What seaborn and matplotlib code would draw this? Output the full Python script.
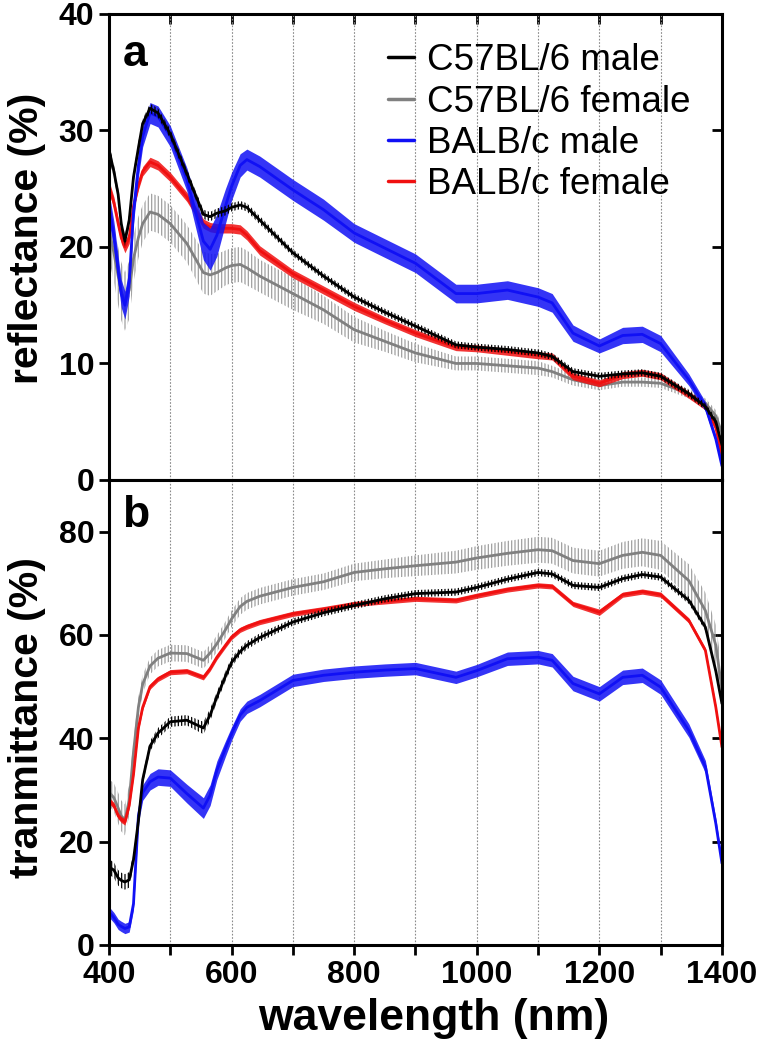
import matplotlib
matplotlib.use('Agg')
import numpy as np
import pandas as pd
import matplotlib.pyplot as plt
import seaborn as sns

# wavelength grid (nm)
wl = [400, 408, 415, 420, 426, 433, 440, 448, 455, 467, 480, 500, 527, 554, 565, 576, 590, 600, 614, 625, 646,
      700, 750, 800, 850, 900, 966, 1000, 1050, 1100, 1123, 1157, 1200, 1238, 1270, 1300, 1346,
      1373, 1390, 1400]

groups = ['C57BL/6 male', 'C57BL/6 female', 'BALB/c male', 'BALB/c female']

# (a) reflectance (%)
black_r = [28.3, 26.5, 24.5, 22.0, 20.5, 22.3, 26.0, 28.5, 30.6, 31.9, 31.5, 29.7, 26.3, 22.8, 22.6, 22.9, 23.1, 23.4, 23.6, 23.4, 22.3,
           19.5, 17.5, 15.7, 14.4, 13.2, 11.6, 11.4, 11.2, 10.9, 10.6, 9.3, 8.9, 9.1, 9.2, 8.9, 7.4, 6.3, 5.0, 3.0]
gray_r = [21.5, 19.5, 17.5, 16.2, 15.3, 16.3, 19.0, 20.8, 22.0, 23.0, 22.8, 22.0, 20.3, 17.8, 17.6, 17.8, 18.2, 18.4, 18.5, 18.2, 17.5,
          16.0, 14.6, 12.9, 11.9, 10.9, 10.0, 10.0, 9.8, 9.6, 9.3, 8.6, 8.1, 8.4, 8.4, 8.3, 7.4, 6.6, 5.5, 4.0]
blue_r = [23.5, 21.0, 18.0, 16.0, 15.0, 17.0, 23.0, 27.0, 29.5, 31.5, 31.2, 29.5, 25.8, 20.5, 19.8, 21.0, 23.5, 25.2, 27.0, 27.5, 26.9,
          24.9, 23.2, 21.2, 19.9, 18.6, 16.0, 16.0, 16.3, 15.7, 15.2, 12.6, 11.5, 12.4, 12.5, 11.7, 8.6, 6.3, 3.5, 1.2]
red_r = [25.2, 23.8, 22.0, 20.8, 20.0, 20.8, 23.5, 25.3, 26.5, 27.3, 27.0, 26.0, 24.3, 22.0, 21.7, 21.6, 21.6, 21.6, 21.5, 21.0, 19.7,
         17.7, 16.3, 14.9, 13.7, 12.6, 11.4, 11.3, 11.0, 10.7, 10.6, 8.9, 8.3, 9.0, 9.2, 8.9, 7.3, 6.3, 4.5, 2.0]

black_r_err = [0.6, 0.6, 0.5, 0.5, 0.5, 0.5, 0.5, 0.5, 0.4, 0.4, 0.4, 0.4, 0.4, 0.4, 0.4, 0.4, 0.4, 0.35, 0.35, 0.35, 0.35,
               0.3, 0.3, 0.3, 0.3, 0.3, 0.3, 0.3, 0.3, 0.3, 0.3, 0.3, 0.3, 0.3, 0.3, 0.3, 0.3, 0.3, 0.3, 0.3]
gray_r_err = [2.5, 2.5, 2.5, 2.5, 2.5, 2.5, 2.0, 1.8, 1.6, 1.6, 1.6, 1.6, 1.6, 1.8, 1.8, 1.6, 1.5, 1.5, 1.5, 1.5, 1.4,
              1.4, 1.2, 1.1, 0.9, 0.8, 0.6, 0.6, 0.6, 0.6, 0.5, 0.5, 0.4, 0.4, 0.4, 0.4, 0.4, 0.4, 0.5, 0.6]
blue_r_err = [1.2, 1.2, 1.2, 1.2, 1.2, 1.2, 1.0, 1.0, 0.9, 0.9, 0.9, 0.9, 1.0, 1.6, 1.8, 1.8, 1.5, 1.2, 1.0, 0.9, 0.9,
              0.9, 0.9, 0.8, 0.8, 0.8, 0.8, 0.8, 0.8, 0.8, 0.8, 0.7, 0.6, 0.7, 0.7, 0.7, 0.5, 0.4, 0.3, 0.3]
red_r_err = [0.5, 0.5, 0.5, 0.5, 0.5, 0.5, 0.4, 0.4, 0.4, 0.4, 0.4, 0.4, 0.4, 0.4, 0.4, 0.4, 0.4, 0.4, 0.4, 0.4, 0.4,
             0.35, 0.35, 0.35, 0.3, 0.3, 0.3, 0.3, 0.3, 0.3, 0.3, 0.3, 0.3, 0.3, 0.3, 0.3, 0.3, 0.3, 0.3, 0.3]

# (b) transmittance (%)
black_t = [15.1, 14.5, 13.0, 12.5, 12.2, 12.6, 16.5, 24.0, 32.0, 38.5, 41.0, 43.2, 43.5, 42.0, 44.5, 48.0, 52.0, 54.7, 56.8, 58.0, 59.5,
           62.5, 64.3, 65.7, 67.0, 68.0, 68.3, 69.2, 70.8, 72.1, 71.8, 69.6, 69.2, 70.9, 71.7, 71.2, 66.7, 61.5, 53.0, 46.7]
gray_t = [29.6, 28.5, 26.5, 25.0, 24.2, 28.0, 37.3, 46.0, 50.5, 54.0, 55.5, 56.5, 56.4, 55.1, 56.5, 58.3, 61.0, 63.1, 65.5, 66.5, 67.5,
          69.2, 70.3, 72.1, 72.8, 73.4, 74.1, 74.9, 75.8, 76.5, 76.3, 74.4, 73.8, 75.4, 76.0, 75.4, 70.5, 64.7, 58.0, 49.5]
blue_t = [6.4, 5.3, 4.0, 3.6, 3.2, 3.5, 8.0, 25.0, 29.5, 31.6, 32.5, 32.3, 29.3, 26.5, 29.0, 33.8, 38.0, 40.9, 44.5, 46.0, 47.3,
          51.2, 52.2, 52.8, 53.2, 53.5, 51.8, 53.1, 55.4, 55.7, 55.1, 50.6, 48.6, 51.8, 52.2, 49.9, 41.5, 34.5, 23.5, 15.8]
red_t = [28.0, 27.0, 25.0, 24.3, 23.8, 27.0, 33.0, 42.0, 46.0, 50.0, 51.5, 52.8, 53.0, 51.8, 53.5, 55.7, 58.0, 59.6, 61.0, 61.6, 62.5,
         64.1, 65.0, 66.0, 66.5, 67.0, 66.7, 67.6, 68.8, 69.6, 69.4, 66.0, 64.4, 67.8, 68.4, 67.8, 62.8, 57.0, 46.0, 38.3]

black_t_err = [1.5, 1.5, 1.5, 1.5, 1.5, 1.5, 1.2, 1.0, 1.0, 1.0, 1.0, 1.0, 1.0, 1.2, 1.2, 1.0, 1.0, 0.9, 0.8, 0.8, 0.8,
               0.7, 0.7, 0.7, 0.7, 0.7, 0.7, 0.7, 0.7, 0.7, 0.7, 0.7, 0.7, 0.7, 0.7, 0.7, 0.7, 0.7, 0.7, 0.7]
gray_t_err = [2.5, 2.8, 3.0, 3.0, 3.0, 3.0, 2.5, 2.0, 1.8, 1.6, 1.6, 1.6, 1.6, 1.6, 1.6, 1.6, 1.6, 1.6, 1.6, 1.6, 1.6,
              1.6, 1.6, 1.7, 1.8, 2.0, 2.2, 2.3, 2.4, 2.5, 2.5, 2.5, 2.5, 2.6, 2.7, 2.8, 3.2, 3.5, 4.0, 4.0]
blue_t_err = [1.0, 1.0, 1.0, 1.0, 1.0, 1.0, 1.2, 1.4, 1.5, 1.6, 1.6, 1.6, 1.8, 2.0, 2.0, 1.8, 1.5, 1.3, 1.2, 1.2, 1.2,
              1.2, 1.2, 1.2, 1.2, 1.2, 1.2, 1.2, 1.3, 1.3, 1.3, 1.4, 1.4, 1.4, 1.4, 1.4, 1.3, 1.2, 1.0, 0.8]
red_t_err = [0.6, 0.6, 0.6, 0.6, 0.6, 0.6, 0.5, 0.5, 0.5, 0.5, 0.5, 0.5, 0.5, 0.5, 0.5, 0.5, 0.5, 0.5, 0.5, 0.5, 0.5,
             0.5, 0.5, 0.5, 0.5, 0.5, 0.5, 0.5, 0.5, 0.5, 0.5, 0.5, 0.6, 0.5, 0.5, 0.5, 0.5, 0.5, 0.5, 0.5]

xtick_vals = list(range(400, 1401, 100))
xtick_labels = ['400', '', '600', '', '800', '', '1000', '', '1200', '', '1400']

colors = {'C57BL/6 male': '#000000', 'C57BL/6 female': '#808080',
          'BALB/c male': '#1010f5', 'BALB/c female': '#f01010'}

refl = {'C57BL/6 male': (black_r, black_r_err), 'C57BL/6 female': (gray_r, gray_r_err),
        'BALB/c male': (blue_r, blue_r_err), 'BALB/c female': (red_r, red_r_err)}
trans = {'C57BL/6 male': (black_t, black_t_err), 'C57BL/6 female': (gray_t, gray_t_err),
         'BALB/c male': (blue_t, blue_t_err), 'BALB/c female': (red_t, red_t_err)}


def to_long(d):
    rows = []
    for g in groups:
        vals, errs = d[g]
        for w, v, e in zip(wl, vals, errs):
            rows.append({'wavelength': w, 'value': v, 'err': e, 'group': g})
    return pd.DataFrame(rows)


sns.set_style('ticks')
plt.rcParams['font.family'] = ['Liberation Sans', 'DejaVu Sans']
plt.rcParams['font.weight'] = 'bold'
plt.rcParams['hatch.linewidth'] = 0.9
plt.rcParams['text.color'] = 'black'
plt.rcParams['axes.labelcolor'] = 'black'
plt.rcParams['xtick.color'] = 'black'
plt.rcParams['ytick.color'] = 'black'

fig = plt.figure(figsize=(7.61, 10.5), dpi=100)
ax_a = fig.add_axes([0.1432, 0.5429, 0.8055, 0.4438])
ax_b = fig.add_axes([0.1432, 0.1, 0.8055, 0.4429])

# zorder: gray < red < blue < black
zorders = {'C57BL/6 female': 2, 'BALB/c female': 3, 'BALB/c male': 4, 'C57BL/6 male': 5}


def draw_panel(ax, d, show_legend):
    df = to_long(d)
    for g in groups:
        sub = df[df['group'] == g]
        lo = sub['value'] - sub['err']
        hi = sub['value'] + sub['err']
        if g in ('C57BL/6 male', 'C57BL/6 female'):
            hc = '#000000' if g == 'C57BL/6 male' else '#a0a0a0'
            ax.fill_between(sub['wavelength'], lo, hi, facecolor='none', edgecolor=hc,
                            hatch='|||||', linewidth=0, zorder=zorders[g] - 0.5)
        else:
            ax.fill_between(sub['wavelength'], lo, hi, color=colors[g], alpha=0.85,
                            linewidth=0, zorder=zorders[g] - 0.5)
    sns.lineplot(data=df, x='wavelength', y='value', hue='group', hue_order=groups,
                 palette=colors, linewidth=2.0, ax=ax, legend=show_legend, errorbar=None)
    for line, g in zip(ax.lines[:4], groups):
        line.set_zorder(zorders[g])
    if show_legend:
        leg = ax.get_legend()
        handles = leg.legend_handles
        labels = [t.get_text() for t in leg.texts]
        for h in handles:
            h.set_linewidth(2.5)
        ax.legend(handles, labels, loc='upper left', bbox_to_anchor=(0.455, 0.937),
                  frameon=False, prop={'weight': 'normal', 'size': 26.5},
                  handlelength=0.7, handletextpad=0.35, labelspacing=0.17,
                  borderpad=0, borderaxespad=0)
    ax.set_xlim(400, 1400)
    ax.set_xticks(xtick_vals)
    ax.grid(axis='x', linestyle=(0, (1.5, 1.5)), color='#8a8a8a', linewidth=0.8)
    ax.set_axisbelow(True)
    for s in ax.spines.values():
        s.set_visible(True)
        s.set_linewidth(2.2)
        s.set_color('black')
        s.set_zorder(10)
    ax.tick_params(axis='both', direction='out', length=7, width=2, labelsize=23, color='black',
                   labelcolor='black')


draw_panel(ax_a, refl, True)
draw_panel(ax_b, trans, False)

ax_a.set_ylim(0, 40)
ax_a.set_yticks([0, 10, 20, 30, 40])
ax_a.set_xticklabels([])
ax_a.set_xlabel('')
ax_a.set_ylabel('reflectance (%)', fontsize=29.5, fontweight='bold', color='black')
ax_a.yaxis.set_label_coords(-0.103, 0.519)

ax_b.set_ylim(0, 90)
ax_b.set_yticks([0, 20, 40, 60, 80])
ax_b.set_xticklabels(xtick_labels)
ax_b.set_ylabel('tranmittance (%)', fontsize=29.5, fontweight='bold', color='black')
ax_b.yaxis.set_label_coords(-0.103, 0.488)
ax_b.set_xlabel('wavelength (nm)', fontsize=32, fontweight='bold', color='black')
ax_b.xaxis.set_label_coords(0.53, -0.115)

# inward ticks on top and right edges
top_a = ax_a.secondary_xaxis('top')
top_a.set_xticks(xtick_vals[1:-1])
top_a.tick_params(direction='in', length=7, width=2, labeltop=False)
right_a = ax_a.secondary_yaxis('right')
right_a.set_yticks([10, 20, 30])
right_a.tick_params(direction='in', length=7, width=2, labelright=False)
right_b = ax_b.secondary_yaxis('right')
right_b.set_yticks([20, 40, 60, 80])
right_b.tick_params(direction='in', length=7, width=2, labelright=False)

ax_a.text(0.022, 0.958, 'a', transform=ax_a.transAxes, fontsize=32, fontweight='bold', va='top', color='black')
ax_b.text(0.022, 0.968, 'b', transform=ax_b.transAxes, fontsize=32, fontweight='bold', va='top', color='black')

fig.savefig('out.png', dpi=100)
